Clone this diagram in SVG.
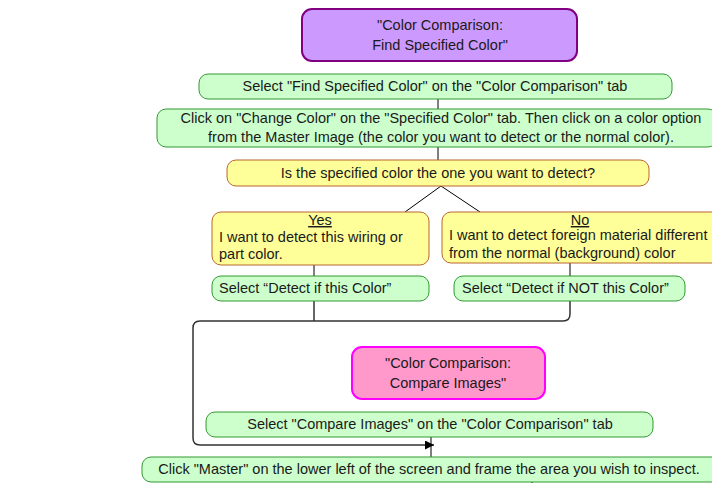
<svg xmlns="http://www.w3.org/2000/svg" width="712" height="483" viewBox="0 0 712 483">
<defs>
<style>
text{font-family:"Liberation Sans",Arial,sans-serif;font-size:14.5px;fill:#1a1a1a}
.c{text-anchor:middle}
.g{fill:#CCFFCC;stroke:#339933;stroke-width:1}
.y{fill:#FFFF99;stroke:#B8662E;stroke-width:1}
.p{fill:#CC99FF;stroke:#800080;stroke-width:2}
.k{fill:#FF99CC;stroke:#FF00FF;stroke-width:2}
.ln{fill:none;stroke:#000;stroke-width:1}
.cn{fill:none;stroke:#333;stroke-width:1.5}
</style>
<marker id="ar" viewBox="0 0 10 10" refX="10" refY="5" markerWidth="9" markerHeight="9" markerUnits="userSpaceOnUse" orient="auto">
<path d="M0,0 L10,5 L0,10 z" fill="#000"/>
</marker>
</defs>
<rect width="712" height="483" fill="#fff"/>
<g id="connectors">
<line class="ln" x1="438" y1="99" x2="438" y2="109"/>
<line class="ln" x1="438" y1="147" x2="438" y2="160"/>
<line class="ln" x1="441" y1="186" x2="405" y2="212"/>
<line class="ln" x1="441" y1="186" x2="480" y2="212"/>
<line class="ln" x1="314" y1="265" x2="314" y2="276"/>
<line class="ln" x1="570" y1="263" x2="570" y2="276"/>
<line class="cn" x1="314" y1="301" x2="314" y2="321"/>
<path class="cn" d="M570,301 V314 Q570,321 563,321 H200 Q193,321 193,328 V438 Q193,445 200,445 H434" marker-end="url(#ar)"/>
<line class="ln" x1="431" y1="437" x2="431" y2="457"/>
<line class="ln" x1="532" y1="479" x2="532" y2="483"/>
</g>
<g id="n1">
<rect class="p" x="302" y="9" width="275" height="52" rx="10"/>
<text class="c" x="440" y="30">"Color Comparison:</text>
<text class="c" x="440" y="50">Find Specified Color"</text>
</g>
<g id="n2">
<rect class="g" x="199" y="74" width="473" height="25" rx="9"/>
<text class="c" x="435" y="91">Select "Find Specified Color" on the "Color Comparison" tab</text>
</g>
<g id="n3">
<rect class="g" x="157" y="109" width="560" height="38" rx="9"/>
<text class="c" x="441" y="123">Click on "Change Color" on the "Specified Color" tab. Then click on a color option</text>
<text class="c" x="441" y="142">from the Master Image (the color you want to detect or the normal color).</text>
</g>
<g id="n4">
<rect class="y" x="227" y="160" width="422" height="26" rx="9"/>
<text class="c" x="438" y="178">Is the specified color the one you want to detect?</text>
</g>
<g id="n5">
<rect class="y" x="212" y="212" width="217" height="53" rx="9"/>
<text class="c" x="320" y="225" text-decoration="underline">Yes</text>
<text x="219" y="242">I want to detect this wiring or</text>
<text x="219" y="259">part color.</text>
</g>
<g id="n6">
<rect class="y" x="442" y="212" width="280" height="51" rx="9"/>
<text class="c" x="580" y="225" text-decoration="underline">No</text>
<text x="449" y="240">I want to detect foreign material different</text>
<text x="449" y="258">from the normal (background) color</text>
</g>
<g id="n7">
<rect class="g" x="212" y="276" width="217" height="25" rx="9"/>
<text x="219" y="293">Select “Detect if this Color”</text>
</g>
<g id="n8">
<rect class="g" x="454" y="276" width="231" height="25" rx="9"/>
<text x="462" y="293">Select “Detect if NOT this Color”</text>
</g>
<g id="n9">
<rect class="k" x="352" y="347" width="193" height="52" rx="10"/>
<text class="c" x="448" y="368">"Color Comparison:</text>
<text class="c" x="448" y="388">Compare Images"</text>
</g>
<g id="n10">
<rect class="g" x="206" y="412" width="447" height="25" rx="9"/>
<text class="c" x="430" y="429">Select "Compare Images" on the "Color Comparison" tab</text>
</g>
<g id="n11">
<rect class="g" x="142" y="457" width="580" height="25" rx="9"/>
<text class="c" x="429" y="474">Click "Master" on the lower left of the screen and frame the area you wish to inspect.</text>
</g>
</svg>
